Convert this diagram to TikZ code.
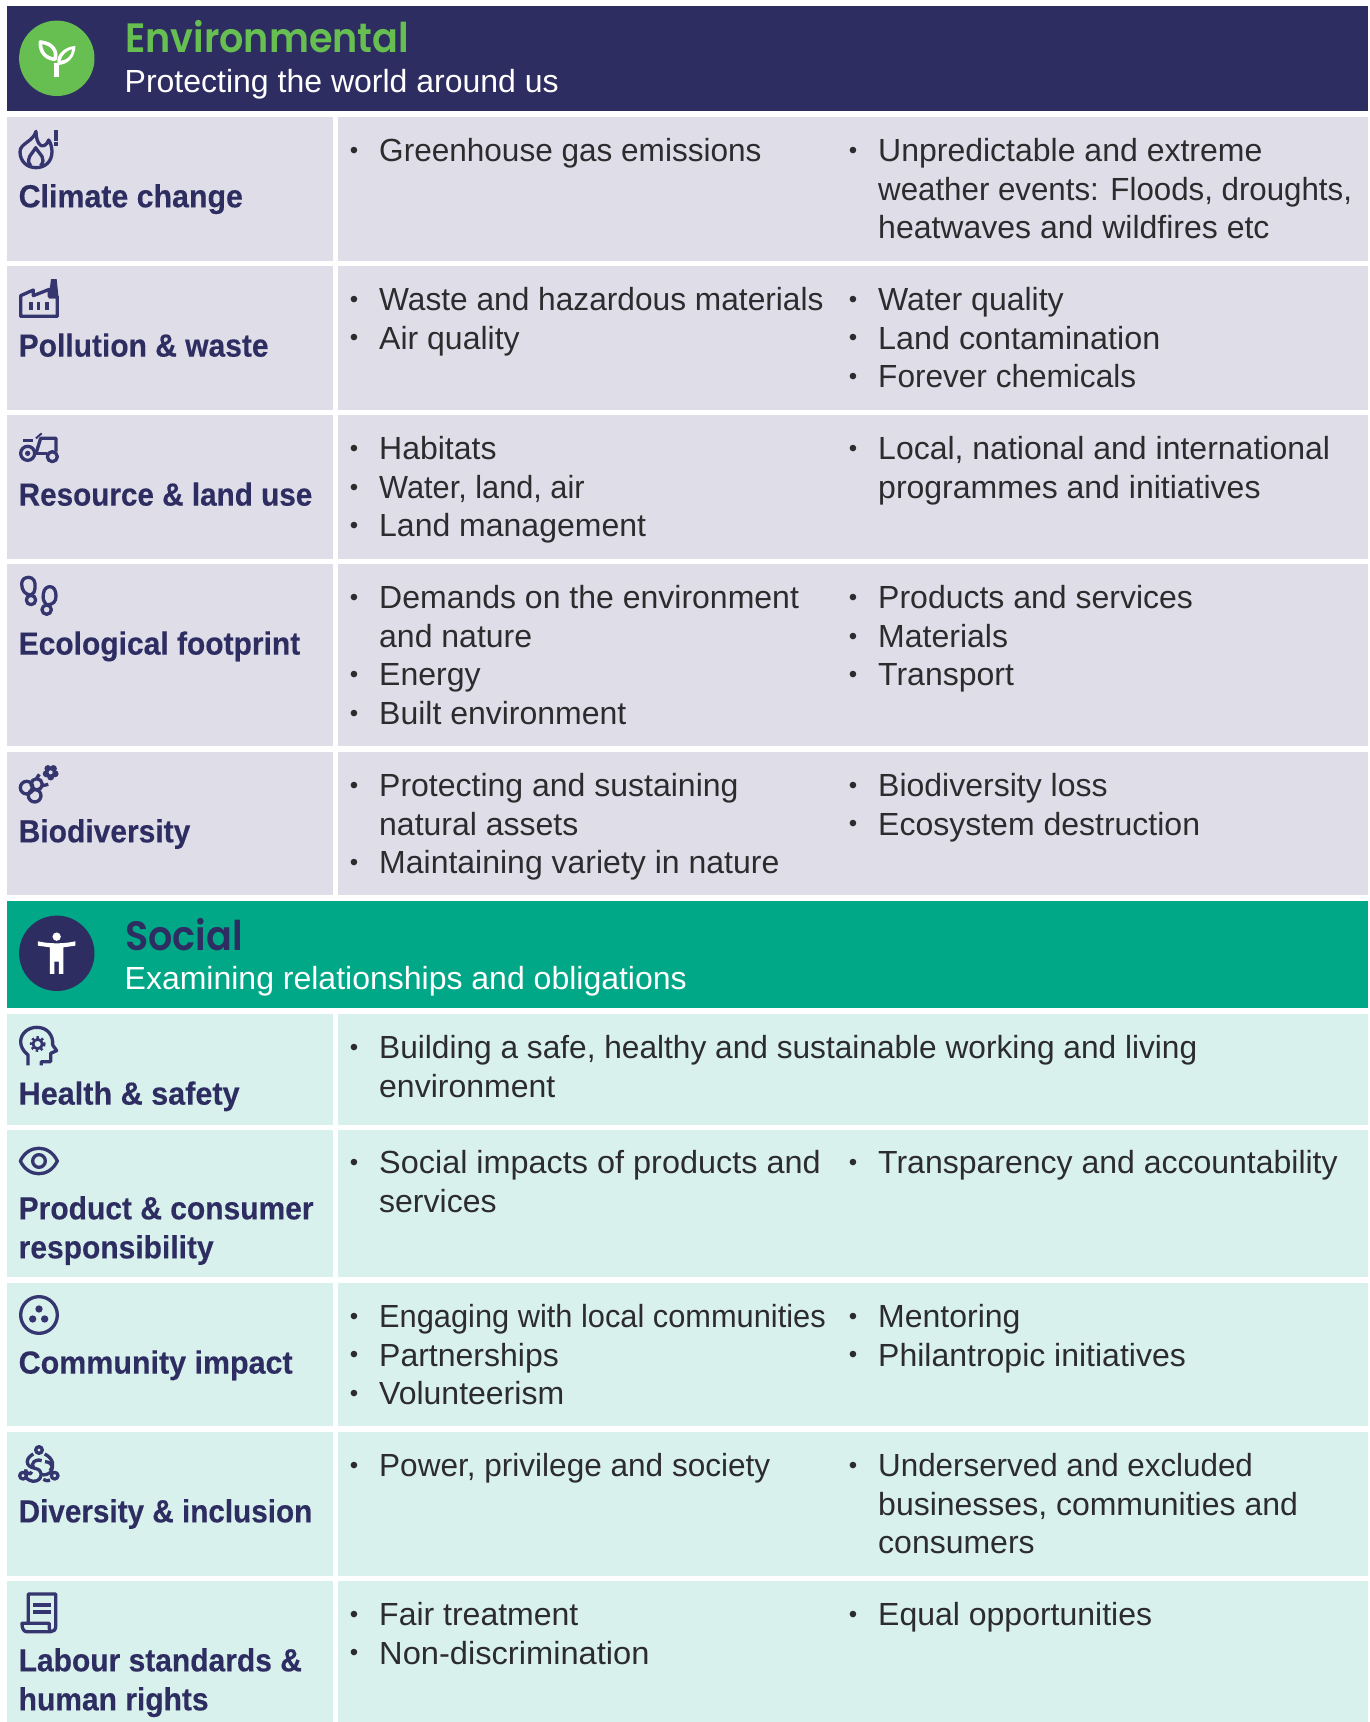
\documentclass[tikz,border=0pt]{standalone}
\usepackage{fontspec}
\setmainfont{Liberation Sans}
\newfontfamily\titlefont{Poppins}[UprightFont=* SemiBold,FakeStretch=0.93]
\newfontfamily\labelfont{Liberation Sans}[UprightFont=* Bold,FakeStretch=0.937,FakeBold=0.3]
\definecolor{navy}{HTML}{2E2D62}
\definecolor{leaf}{HTML}{66BF50}
\definecolor{lav}{HTML}{DFDEE8}
\definecolor{teal}{HTML}{00A887}
\definecolor{mint}{HTML}{D9F1EC}
\definecolor{iconc}{HTML}{35366F}
\definecolor{bodyc}{HTML}{2C2C2E}
\newcommand{\bl}{\makebox[31pt][l]{\hspace{1.6pt}\raisebox{3.3pt}{\fontsize{24}{24}\selectfont •}}}
\newcommand{\ct}{\makebox[31pt]{}}
\newcommand{\sx}[2]{\scalebox{#1}[1]{#2}}
\newcommand{\cellnode}[4]{\node[bodytext] (#1) at (348,#3-30) {\rule{0pt}{30pt}#4};}
\newcommand{\cellat}[4]{\node[bodytext] (#1) at (#2,#3-30) {\rule{0pt}{30pt}#4};}
\newcommand{\lab}[3]{\node[labeltext] (#1) at (18.5,#2-29.6) {\rule{0pt}{30pt}#3};}
\tikzset{
  bodytext/.style={anchor=north west,inner sep=0pt,align=left,text=bodyc,font=\fontsize{32}{38.6}\selectfont},
  labeltext/.style={anchor=north west,inner sep=0pt,align=left,text=navy,font=\labelfont\fontsize{32}{39}\selectfont},
  ttl/.style={anchor=base west,inner sep=0pt,font=\titlefont\fontsize{41}{41}\selectfont},
  subt/.style={anchor=base west,inner sep=0pt,text=white,font=\fontsize{32}{32}\selectfont},
  ic/.style={draw=iconc,line width=3.3pt,line join=round,fill=none},
  icf/.style={fill=iconc,draw=none},
  zoomed/.style={x=0.33333pt,y=-0.33333pt},
}
\begin{document}
\begin{tikzpicture}[x=1pt,y=-1pt]
\useasboundingbox (0,0) rectangle (1370,1722);
\fill[white] (0,0) rectangle (1370,1722);
% headers
\fill[navy] (6.5,6) rectangle (1368,111);
\fill[teal] (6.5,901) rectangle (1368,1008.3);
% rows
\foreach \a/\b in {117/260.5,266/409.7,415/558.7,564/746,751.7/895}{
  \fill[lav] (6.5,\a) rectangle (333,\b);
  \fill[lav] (338,\a) rectangle (1368,\b);
}
\foreach \a/\b in {1014/1125,1130/1277,1283/1426,1432/1575.7,1581/1722}{
  \fill[mint] (6.5,\a) rectangle (333,\b);
  \fill[mint] (338,\a) rectangle (1368,\b);
}
% header icons
\node[circle,fill=leaf,minimum size=75.4pt,inner sep=0pt] (envcirc) at (56.8,58.3) {};
\node[circle,fill=navy,minimum size=75.4pt,inner sep=0pt] (soccirc) at (56.8,953.3) {};
\begin{scope}[zoomed]
 \draw[white,line width=4.5pt] (170,230) -- (170,188);
 \draw[white,line width=3.6pt,line join=round,fill=leaf] (121,126) .. controls (160,130) and (172,155) .. (165,178) .. controls (135,175) and (120,155) .. (121,126) -- cycle;
 \fill[white] (172,180) .. controls (175,160) and (195,140) .. (226,138) .. controls (226,170) and (205,195) .. (172,195) -- cycle;
 \fill[leaf] (182,182) .. controls (186,165) and (200,152) .. (216,148) .. controls (215,165) and (203,180) .. (182,182) -- cycle;
\end{scope}
\begin{scope}[zoomed,shift={(0,2220)}]
 \fill[white] (170,590) circle[radius=12.5];
 \fill[white] (114,604) .. controls (150,612) and (190,612) .. (226,604) -- (226,617) -- (190,622) -- (190,702) -- (177,702) -- (177,665) -- (163,665) -- (163,702) -- (150,702) -- (150,622) -- (114,617) -- cycle;
\end{scope}
% titles
\node[ttl,text=leaf] (envt) at (125,52.7) {Environmental};
\node[subt] (envs) at (124.5,92.7) {Protecting the world around us};
\node[ttl,text=navy] (soct) at (125,950) {Social};
\node[subt] (socs) at (124.5,989) {Examining relationships and obligations};
% labels
\lab{l1}{206.7}{\sx{1.012}{Climate change}}
\lab{l2}{356}{Pollution \& waste}
\lab{l3}{505}{\sx{.99}{Resource \& land use}}
\lab{l4}{654}{Ecological footprint}
\lab{l5}{841.7}{Biodiversity}
\lab{l6}{1104}{\sx{1.02}{Health \& safety}}
\lab{l7}{1218.7}{Product \& consumer\\responsibility}
\lab{l8}{1373}{\sx{1.015}{Community impact}}
\lab{l9}{1521.7}{\sx{.99}{Diversity \& inclusion}}
\lab{l10}{1670.7}{Labour standards \&\\human rights}
% body
\cellnode{a1}{}{161.5}{\bl \sx{.986}{Greenhouse gas emissions}}
\cellat{b1}{847}{161.5}{\bl Unpredictable and extreme\\\ct \sx{.977}{weather events: Floods, droughts,}\\\ct heatwaves and wildfires etc}
\cellnode{a2}{}{310.4}{\bl \sx{.99}{Waste and hazardous materials}\\\bl Air quality}
\cellat{b2}{847}{310.4}{\bl Water quality\\\bl \sx{1.01}{Land contamination}\\\bl \sx{.987}{Forever chemicals}}
\cellnode{a3}{}{459.5}{\bl Habitats\\\bl \sx{.96}{Water, land, air}\\\bl Land management}
\cellat{b3}{847}{459.5}{\bl Local, national and international\\\ct programmes and initiatives}
\cellnode{a4}{}{608.5}{\bl Demands on the environment\\\ct and nature\\\bl Energy\\\bl Built environment}
\cellat{b4}{847}{608.5}{\bl Products and services\\\bl Materials\\\bl Transport}
\cellnode{a5}{}{796.2}{\bl Protecting and sustaining\\\ct natural assets\\\bl Maintaining variety in nature}
\cellat{b5}{847}{796.2}{\bl Biodiversity loss\\\bl Ecosystem destruction}
\cellnode{a6}{}{1058.5}{\bl \sx{.989}{Building a safe, healthy and sustainable working and living}\\\ct environment}
\cellnode{a7}{}{1173.4}{\bl \sx{1.013}{Social impacts of products and}\\\ct services}
\cellat{b7}{847}{1173.4}{\bl Transparency and accountability}
\cellnode{a8}{}{1327.4}{\bl \sx{.962}{Engaging with local communities}\\\bl Partnerships\\\bl Volunteerism}
\cellat{b8}{847}{1327.4}{\bl Mentoring\\\bl Philantropic initiatives}
\cellnode{a9}{}{1476.4}{\bl \sx{.986}{Power, privilege and society}}
\cellat{b9}{847}{1476.4}{\bl \sx{.98}{Underserved and excluded}\\\ct businesses, communities and\\\ct consumers}
\cellnode{a10}{}{1625.4}{\bl Fair treatment\\\bl \sx{1.02}{Non-discrimination}}
\cellat{b10}{847}{1625.4}{\bl Equal opportunities}
% flame
\begin{scope}[zoomed]
 \draw[ic] (108,394) .. controls (100,425) and (60,430) .. (60,455) .. controls (60,485) and (82,503) .. (108,503) .. controls (135,503) and (156,485) .. (156,455) .. controls (156,440) and (150,425) .. (146,420) .. controls (140,437) and (128,440) .. (122,436) .. controls (112,430) and (108,410) .. (108,394) -- cycle;
 \draw[ic] (92,497) .. controls (75,475) and (95,465) .. (107,443) .. controls (120,465) and (140,475) .. (122,497);
 \fill[iconc] (162,390) rectangle (175,422);
 \fill[iconc] (162,427) rectangle (175,437);
\end{scope}
% factory
\begin{scope}[zoomed,shift={(0,810)}]
 \draw[ic] (62,139) -- (62,77) -- (100,60) -- (100,77) -- (148,58) -- (148,80) -- (172,80) -- (172,139) -- cycle;
 \fill[iconc] (146,85) -- (153,27) -- (170,27) -- (176,85) -- cycle;
 \fill[iconc] (87,96) rectangle (98,120);
 \fill[iconc] (110,96) rectangle (121,120);
 \fill[iconc] (134,96) rectangle (146,120);
\end{scope}
% tractor
\begin{scope}[zoomed,shift={(0,810)}]
 \draw[ic] (83,550) circle[radius=21];
 \fill[iconc] (83,550) circle[radius=8];
 \draw[ic] (157,560) circle[radius=15];
 \draw[ic] (70,512) -- (98,512);
 \draw[ic] (108,550) -- (122,505) -- (168,505) -- (168,545);
 \draw[ic] (108,550) -- (140,550);
 \draw[ic,line width=2pt] (108,505) -- (125,490);
\end{scope}
% feet
\begin{scope}[zoomed,shift={(0,810)}]
 \draw[ic] (93,975) .. controls (75,975) and (65,960) .. (65,942) .. controls (65,928) and (75,922) .. (86,922) .. controls (100,922) and (108,935) .. (105,955) .. controls (104,965) and (102,970) .. (93,975) -- cycle;
 \draw[ic] (93,990) circle[radius=14];
 \draw[ic] (141,1005) .. controls (130,995) and (128,985) .. (130,972) .. controls (132,955) and (142,950) .. (150,950) .. controls (162,950) and (168,962) .. (168,978) .. controls (168,995) and (160,1003) .. (141,1005) -- cycle;
 \draw[ic] (140,1019) circle[radius=14];
\end{scope}
% biodiversity
\begin{scope}[zoomed,shift={(0,2220)}]
 \foreach \ang in {90,162,234,306,18}{\fill[iconc] (152,97) ++(\ang:14) circle[radius=10.5];}
 \fill[lav] (152,97) circle[radius=6];
 \draw[ic] (80,143) circle[radius=19];
 \draw[ic] (104,167) circle[radius=19];
 \draw[ic] (110,133) circle[radius=17];
 \fill[iconc] (97,150) circle[radius=8];
 \draw[ic] (110,115) -- (118,103);
 \draw[ic] (125,138) -- (145,133);
\end{scope}
% head
\begin{scope}[zoomed,shift={(0,2220)}]
 \draw[ic] (84,976) -- (84,945) .. controls (68,932) and (62,918) .. (62,905) .. controls (62,880) and (85,862) .. (110,862) .. controls (142,862) and (160,885) .. (158,915) -- (170,932) -- (152,940) -- (152,965) -- (124,965) -- (124,976);
 \draw[iconc,line width=2.8pt] (113,912) circle[radius=14];
 \draw[iconc,line width=2.4pt,dash pattern=on 2.4pt off 2.6pt] (113,912) circle[radius=20];
\end{scope}
% eye
\begin{scope}[zoomed,shift={(0,3390)}]
 \draw[ic] (61,93) .. controls (85,42) and (148,42) .. (172,93) .. controls (148,144) and (85,144) .. (61,93) -- cycle;
 \draw[ic] (117,93) circle[radius=19];
\end{scope}
% community
\begin{scope}[zoomed,shift={(0,3390)}]
 \draw[ic] (117,555) circle[radius=55];
 \fill[iconc] (117,537) circle[radius=11];
 \fill[iconc] (98,567) circle[radius=11];
 \fill[iconc] (134,567) circle[radius=11];
\end{scope}
% diversity
\begin{scope}[zoomed,shift={(0,4290)}]
 \draw[ic] (117,60) circle[radius=10];
 \draw[ic] (69,137) circle[radius=10];
 \draw[ic] (164,137) circle[radius=10];
 \draw[ic] (100,72) .. controls (75,85) and (75,110) .. (105,115) .. controls (130,120) and (130,145) .. (108,153) .. controls (95,156) and (85,150) .. (78,143);
 \draw[ic] (134,72) .. controls (160,85) and (165,110) .. (150,122);
 \draw[ic] (125,92) .. controls (105,85) and (92,100) .. (100,112);
 \draw[ic] (135,95) .. controls (165,95) and (165,135) .. (128,135);
 \draw[ic] (150,150) .. controls (140,155) and (135,150) .. (130,148);
 \draw[ic] (78,118) .. controls (70,125) and (95,140) .. (95,125);
\end{scope}
% document
\begin{scope}[zoomed,shift={(0,4290)}]
 \draw[ic] (85,578) -- (85,492) -- (167,492) -- (167,590) .. controls (167,600) and (160,605) .. (152,605) -- (80,605) .. controls (72,605) and (66,598) .. (66,580) -- (148,580) -- (148,595) .. controls (148,600) and (150,605) .. (152,605);
 \fill[iconc] (100,520) rectangle (152,532);
 \fill[iconc] (100,540) rectangle (152,552);
\end{scope}
\end{tikzpicture}
\end{document}
